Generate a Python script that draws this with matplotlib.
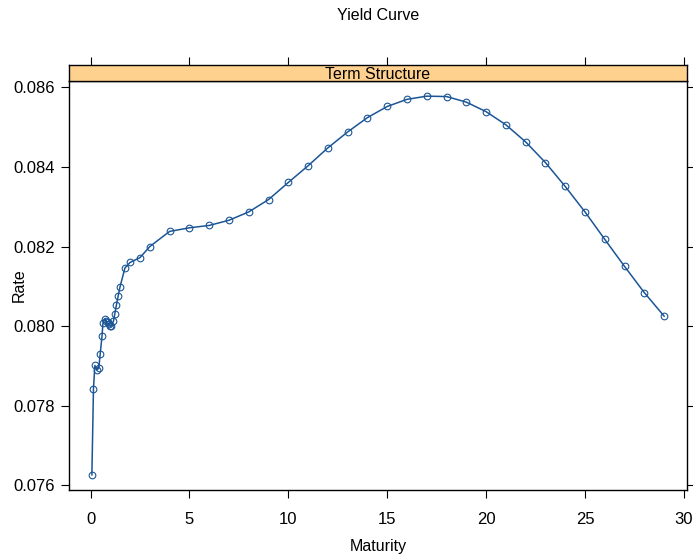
import matplotlib
matplotlib.use("Agg")
import matplotlib.pyplot as plt

plt.rcParams['font.family'] = ['Liberation Sans', 'DejaVu Sans']

# Term structure observations (maturity in years, yield rate)
maturity = [0.07, 0.15, 0.22, 0.32, 0.42, 0.49, 0.58, 0.63, 0.73, 0.79,
            0.86, 0.93, 1.00, 1.06, 1.16, 1.23, 1.31, 1.40, 1.49, 1.74,
            2.0, 2.5, 3, 4, 5, 6, 7, 8, 9, 10, 11, 12, 13, 14, 15, 16, 17,
            18, 19, 20, 21, 22, 23, 24, 25, 26, 27, 28, 29]
rate = [0.07626, 0.07843, 0.07901, 0.07890, 0.07894, 0.07930, 0.07974,
        0.08008, 0.08018, 0.08014, 0.08009, 0.08004, 0.07999, 0.08001,
        0.08012, 0.08031, 0.08053, 0.08076, 0.08098, 0.08146, 0.08160,
        0.08172, 0.08200, 0.08238, 0.08247, 0.08253, 0.08266, 0.08287,
        0.08318, 0.08361, 0.08403, 0.08448, 0.08488, 0.08524, 0.08552,
        0.08570, 0.08578, 0.08577, 0.08563, 0.08539, 0.08506, 0.08463,
        0.08411, 0.08351, 0.08287, 0.08218, 0.08150, 0.08084, 0.08025]

x_ticks = [0, 5, 10, 15, 20, 25, 30]
y_ticks = [0.076, 0.078, 0.080, 0.082, 0.084, 0.086]
y_labels = ["0.076", "0.078", "0.080", "0.082", "0.084", "0.086"]

W, H = 693, 558
fig = plt.figure(figsize=(W / 100, H / 100), dpi=100)

left, right, bottom, top = 69, 687, 490, 81
strip_top = 65
ax = fig.add_axes([left / W, 1 - bottom / H, (right - left) / W, (bottom - top) / H])
strip = fig.add_axes([left / W, 1 - top / H, (right - left) / W, (top - strip_top) / H])

col = '#1b5596'
ax.plot(maturity, rate, color=col, lw=1.1, marker='o', markersize=4.8,
        markerfacecolor='none', markeredgecolor=col, markeredgewidth=0.8)

# Panel limits padded by 4% of the data range on each side
xr = max(maturity) - min(maturity)
yr = max(rate) - min(rate)
xlim = (min(maturity) - 0.04 * xr, max(maturity) + 0.04 * xr)
ax.set_xlim(*xlim)
ax.set_ylim(min(rate) - 0.04 * yr, max(rate) + 0.04 * yr)
strip.set_xlim(*xlim)

ax.set_xticks(x_ticks)
ax.set_yticks(y_ticks)
ax.set_yticklabels(y_labels)
ax.tick_params(axis='both', direction='out', length=6, width=0.8, color='black',
               labelsize=12)
ax.tick_params(axis='x', pad=10, top=False)
ax.tick_params(axis='y', pad=4, right=True, labelright=False)
for s in ax.spines.values():
    s.set_linewidth(1.0)
    s.set_color('black')

ax.set_xlabel('Maturity', fontsize=11.5)
ax.xaxis.label.set_va('center')
ax.xaxis.set_label_coords(0.5, -(547 - bottom) / (bottom - top))
ax.set_ylabel('Rate', fontsize=11.5)
ax.yaxis.label.set_va('center')
ax.yaxis.set_label_coords(-(left - 19) / (right - left), 0.5)

# Panel strip
strip.set_facecolor('#ffd18f')
strip.set_yticks([])
strip.set_xticks(x_ticks)
strip.tick_params(axis='x', bottom=False, labelbottom=False, top=True,
                  labeltop=False, direction='out', length=6, width=0.8)
for s in strip.spines.values():
    s.set_linewidth(1.0)
    s.set_color('black')
strip.text(0.5, 0.4, 'Term Structure', transform=strip.transAxes,
           ha='center', va='center', fontsize=11.5)

# Title centred over the panel
fig.text((left + right) / 2 / W, 1 - 15 / H, 'Yield Curve',
         ha='center', va='center', fontsize=11.5)

fig.savefig('out.png', dpi=100, facecolor='white')
